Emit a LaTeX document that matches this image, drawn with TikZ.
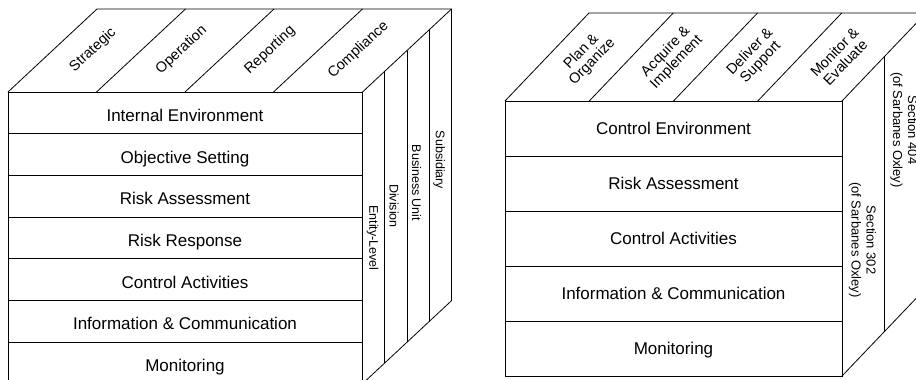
\documentclass[tikz,border=0pt]{standalone}
\usepackage{fontspec}
\setmainfont{Liberation Sans}

\begin{document}
\begin{tikzpicture}[x=1pt,y=-1pt,line width=0.8pt,
    rowlabel/.style={font=\fontsize{17}{18}\selectfont,anchor=base,inner sep=0pt},
    toplabel/.style={font=\fontsize{14.5}{15}\selectfont,align=center,inner sep=0pt},
    sidelabel/.style={font=\fontsize{12.5}{14}\selectfont,align=center,rotate=-90,inner sep=0pt}]
    \useasboundingbox (0,0) rectangle (916,380);

    % COSO cube
    \draw (8,92) rectangle (362.5,383.7);
    \draw (8,92) -- (97,9) -- (451.5,9) -- (451.5,300.7) -- (362.5,383.7);
    \draw (362.5,92) -- (451.5,9);
    \foreach \k in {1,2,3}{
      \draw (8+88.5*\k,92) -- (97+88.5*\k,9);
      \draw (362.5+22.25*\k,92-20.75*\k) -- (362.5+22.25*\k,383.7-20.75*\k);
       }
    \foreach \t [count=\i] in {Internal Environment,Objective Setting,Risk Assessment,Risk Response,Control Activities,Information \& Communication,Monitoring}{
      \node [rowlabel] (coso\i) at (185,92+41.67*\i-12.3) {\t};
      \ifnum\i<7 \draw (8,92+41.67*\i) -- (362.5,92+41.67*\i); \fi
       }
    \foreach \t [count=\i from 0] in {Strategic,Operation,Reporting,Compliance}{
      \node [toplabel,rotate=43] (obj\i) at (93+88.5*\i,50) {\t};
       }
    \foreach \t/\x/\y [count=\i] in {Entity-Level/372.5/238,Division/394/206,Business Unit/416.5/183,Subsidiary/439/160}{
      \node [sidelabel] (unit\i) at (\x,\y) {\t};
       }

    % COBIT cube
    \draw (505,101) rectangle (842,376);
    \draw (505,101) -- (589,13) -- (926,13) -- (926,288) -- (842,376);
    \draw (842,101) -- (926,13);
    \draw (884,57) -- (884,332);
    \foreach \k in {1,2,3}{
      \draw (505+84.25*\k,101) -- (589+84.25*\k,13);
       }
    \foreach \t [count=\i] in {Control Environment,Risk Assessment,Control Activities,Information \& Communication,Monitoring}{
      \node [rowlabel] (cobit\i) at (673.5,101+55*\i-21.5) {\t};
      \ifnum\i<5 \draw (505,101+55*\i) -- (842,101+55*\i); \fi
       }
    \foreach \t [count=\i from 0] in {Plan \&\\Organize,Acquire \&\\Implement,Deliver \&\\Support,Monitor \&\\Evaluate}{
      \node [toplabel,rotate=46] (dom\i) at (587+84.25*\i,57) {\t};
       }
    \node [sidelabel,font=\fontsize{13}{15}\selectfont] (sox302) at (862.5,240) {Section 302\\(of Sarbanes Oxley)};
    \node [sidelabel,font=\fontsize{13}{15}\selectfont] (sox404) at (904,130) {Section 404\\(of Sarbanes Oxley)};

  \end{tikzpicture}
\end{document}
